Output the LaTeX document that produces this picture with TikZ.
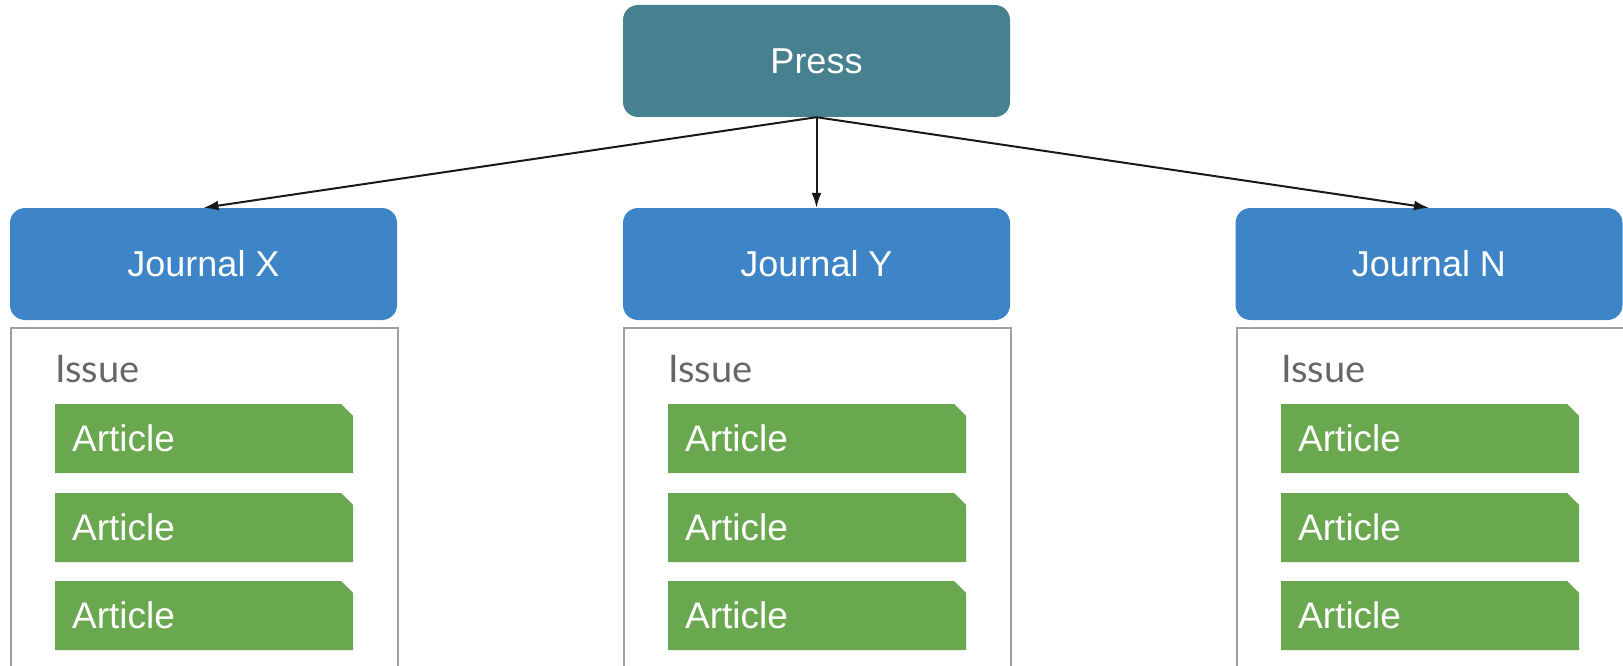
\documentclass[tikz,border=0pt]{standalone}
\usepackage{fontspec}
\setmainfont{Liberation Sans}
\newfontfamily\latofont{Lato}
\usetikzlibrary{arrows.meta,shapes.misc}
\definecolor{pressteal}{HTML}{47818F}
\definecolor{journalblue}{HTML}{3E85C7}
\definecolor{articlegreen}{HTML}{6AA84F}
\definecolor{issuegray}{HTML}{A0A0A0}
\definecolor{labelgray}{HTML}{666666}
\tikzset{
  topbox/.style={rectangle, rounded corners=15pt, minimum width=387pt,
    minimum height=112pt, text=white, font=\fontsize{36}{40}\selectfont},
  pressbox/.style={topbox, fill=pressteal},
  journal/.style={topbox, fill=journalblue},
  issuebox/.style={rectangle, draw=issuegray, line width=2pt, anchor=north west,
    minimum width=387pt, minimum height=360pt},
  issuelabel/.style={anchor=west, inner sep=0pt, text=labelgray,
    font=\latofont\fontsize{38}{42}\selectfont},
  article/.style={chamfered rectangle, chamfered rectangle corners=north east,
    chamfered rectangle xsep=6pt, chamfered rectangle ysep=6pt,
    fill=articlegreen, anchor=west, text width=264pt, align=left,
    inner xsep=11pt, inner ysep=0pt, minimum height=69pt, text=white,
    font=\fontsize{37}{40}\selectfont},
  link/.style={line width=2pt, draw=black!90, -{Latex[length=15pt,width=10pt]}}
}
\begin{document}
\begin{tikzpicture}[x=1pt,y=-1pt]
\useasboundingbox (0,0) rectangle (1623,666);
\clip (0,0) rectangle (1623,666);
% press and journals
\node [pressbox] (press) at (816.5,61) {Press};
\node [journal] (jx) at (203.5,264) {Journal X};
\node [journal] (jy) at (816.5,264) {Journal Y};
\node [journal] (jn) at (1429,264) {Journal N};
\draw [link] (press.south) -- (jx.north);
\draw [link] (press.south) -- (jy.north);
\draw [link] (press.south) -- (jn.north);
% issues
\node [issuebox] (ix) at (10,327) {};
\node [issuebox] (iy) at (623,327) {};
\node [issuebox] (in) at (1236,327) {};
\node [issuelabel] (lx) at (55,369) {Issue};
\node [issuelabel] (ly) at (668,369) {Issue};
\node [issuelabel] (ln) at (1281,369) {Issue};
% articles
\node [article] (ax1) at (55,438.5) {Article};
\node [article] (ax2) at (55,527.5) {Article};
\node [article] (ax3) at (55,615.5) {Article};
\node [article] (ay1) at (668,438.5) {Article};
\node [article] (ay2) at (668,527.5) {Article};
\node [article] (ay3) at (668,615.5) {Article};
\node [article] (an1) at (1281,438.5) {Article};
\node [article] (an2) at (1281,527.5) {Article};
\node [article] (an3) at (1281,615.5) {Article};
\end{tikzpicture}
\end{document}
